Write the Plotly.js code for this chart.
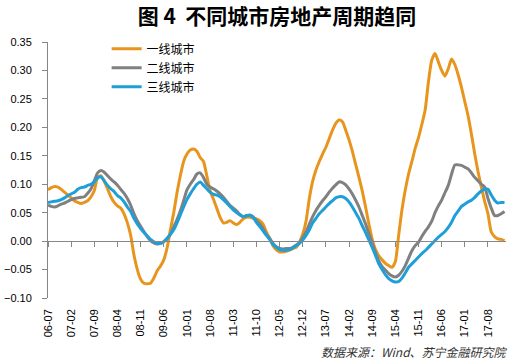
<!DOCTYPE html>
<html>
<head>
<meta charset="utf-8">
<script src="https://cdn.plot.ly/plotly-3.0.1.min.js"></script>
<style>html,body{margin:0;padding:0;background:#fff;}#chart{width:511px;height:360px;}</style>
</head>
<body>
<div id="chart"></div>
<script>
const months = [
 "06-07","06-08","06-09","06-10","06-11","06-12",
 "07-01","07-02","07-03","07-04","07-05","07-06","07-07","07-08","07-09","07-10","07-11","07-12",
 "08-01","08-02","08-03","08-04","08-05","08-06","08-07","08-08","08-09","08-10","08-11","08-12",
 "09-01","09-02","09-03","09-04","09-05","09-06","09-07","09-08","09-09","09-10","09-11","09-12",
 "10-01","10-02","10-03","10-04","10-05","10-06","10-07","10-08","10-09","10-10","10-11","10-12",
 "11-01","11-02","11-03","11-04","11-05","11-06","11-07","11-08","11-09","11-10","11-11","11-12",
 "12-01","12-02","12-03","12-04","12-05","12-06","12-07","12-08","12-09","12-10","12-11","12-12",
 "13-01","13-02","13-03","13-04","13-05","13-06","13-07","13-08","13-09","13-10","13-11","13-12",
 "14-01","14-02","14-03","14-04","14-05","14-06","14-07","14-08","14-09","14-10","14-11","14-12",
 "15-01","15-02","15-03","15-04","15-05","15-06","15-07","15-08","15-09","15-10","15-11","15-12",
 "16-01","16-02","16-03","16-04","16-05","16-06","16-07","16-08","16-09","16-10","16-11","16-12",
 "17-01","17-02","17-03","17-04","17-05","17-06","17-07","17-08","17-09","17-10","17-11","17-12",
 "18-01"
];

const tier1 = [
 0.090,0.094,0.096,0.095,0.091,0.086,
 0.081,0.076,0.071,0.068,0.066,0.068,0.071,0.078,0.089,0.112,0.115,0.105,
 0.092,0.078,0.068,0.062,0.058,0.048,0.032,0.010,-0.025,-0.050,-0.067,-0.074,
 -0.075,-0.074,-0.065,-0.052,-0.044,-0.033,-0.012,0.020,0.050,0.085,0.115,0.140,
 0.153,0.160,0.162,0.158,0.147,0.140,0.115,0.088,0.074,0.058,0.042,0.032,
 0.033,0.036,0.032,0.029,0.033,0.039,0.042,0.042,0.040,0.039,0.036,0.030,
 0.016,0.005,-0.008,-0.015,-0.019,-0.019,-0.018,-0.016,-0.013,-0.011,-0.002,0.012,
 0.035,0.075,0.105,0.125,0.140,0.153,0.165,0.180,0.195,0.207,0.213,0.210,
 0.195,0.178,0.158,0.135,0.112,0.088,0.060,0.030,0.003,-0.015,-0.026,-0.033,
 -0.039,-0.043,-0.046,-0.036,0.010,0.055,0.090,0.118,0.140,0.163,0.182,0.205,
 0.230,0.280,0.318,0.330,0.315,0.300,0.290,0.303,0.320,0.310,0.292,0.270,
 0.245,0.220,0.188,0.153,0.122,0.095,0.070,0.048,0.016,0.008,0.004,0.003,
 0.001
];

const tier2 = [
 0.063,0.061,0.060,0.062,0.065,0.067,
 0.070,0.073,0.075,0.076,0.077,0.078,0.084,0.092,0.106,0.120,0.124,0.121,
 0.115,0.109,0.104,0.098,0.091,0.084,0.075,0.063,0.048,0.036,0.026,0.017,
 0.008,0.001,-0.003,-0.005,-0.004,-0.001,0.004,0.012,0.025,0.038,0.053,0.071,
 0.090,0.100,0.108,0.118,0.120,0.112,0.100,0.095,0.092,0.088,0.083,0.077,
 0.070,0.063,0.058,0.053,0.047,0.043,0.044,0.045,0.043,0.036,0.030,0.022,
 0.012,0.005,-0.004,-0.010,-0.013,-0.014,-0.013,-0.013,-0.011,-0.007,-0.003,0.006,
 0.016,0.030,0.043,0.054,0.063,0.071,0.078,0.086,0.093,0.099,0.104,0.103,
 0.099,0.092,0.083,0.072,0.060,0.045,0.030,0.013,-0.003,-0.020,-0.035,-0.045,
 -0.051,-0.057,-0.061,-0.063,-0.060,-0.053,-0.043,-0.030,-0.017,-0.008,-0.002,0.008,
 0.017,0.025,0.035,0.050,0.062,0.072,0.085,0.098,0.118,0.134,0.134,0.133,
 0.130,0.127,0.120,0.112,0.106,0.100,0.095,0.075,0.058,0.045,0.045,0.048,
 0.052
];

const tier3 = [
 0.068,0.069,0.070,0.071,0.073,0.076,
 0.080,0.083,0.086,0.091,0.094,0.095,0.098,0.100,0.104,0.111,0.113,0.106,
 0.098,0.092,0.087,0.080,0.076,0.069,0.060,0.052,0.040,0.030,0.022,0.015,
 0.009,0.003,-0.001,-0.004,-0.004,-0.001,0.005,0.012,0.020,0.032,0.046,0.060,
 0.073,0.083,0.092,0.100,0.104,0.098,0.092,0.086,0.082,0.081,0.078,0.073,
 0.067,0.061,0.055,0.050,0.046,0.043,0.045,0.046,0.042,0.033,0.026,0.018,
 0.010,0.003,-0.006,-0.011,-0.015,-0.016,-0.016,-0.015,-0.012,-0.008,-0.004,0.002,
 0.010,0.020,0.032,0.040,0.048,0.054,0.060,0.066,0.071,0.076,0.078,0.078,
 0.075,0.069,0.060,0.050,0.040,0.027,0.015,0.002,-0.011,-0.025,-0.040,-0.050,
 -0.059,-0.066,-0.070,-0.072,-0.071,-0.065,-0.056,-0.046,-0.040,-0.034,-0.028,-0.022,
 -0.017,-0.011,-0.005,0.001,0.007,0.012,0.017,0.024,0.033,0.045,0.053,0.061,
 0.065,0.069,0.072,0.077,0.083,0.088,0.092,0.091,0.081,0.072,0.067,0.068,
 0.068
];

const seriesNames = ["一线城市","二线城市","三线城市"];
const seriesColors = ["#E8951E","#808080","#1F9FD8"];
const seriesData = [tier1, tier2, tier3];

const xRange = [0, 138.45];
const axisGray = "#868686";
const tickFont = {family: "Liberation Sans, Arial, sans-serif", size: 11, color: "#000"};

const traces = seriesData.map((vals, k) => ({
  type: "scatter", mode: "lines",
  x: months, y: vals, name: seriesNames[k],
  line: {color: seriesColors[k], width: 3, shape: "spline", smoothing: 0.6},
  hoverinfo: "skip"
}));
// helper trace to carry the zero-crossing tick axis
traces.push({
  type: "scatter", mode: "lines", x: months, y: months.map(() => null),
  xaxis: "x2", yaxis: "y", showlegend: false, hoverinfo: "skip"
});

const layout = {
  width: 511, height: 360,
  margin: {l: 48, r: 5, t: 42, b: 62},
  paper_bgcolor: "#fff", plot_bgcolor: "#fff",
  showlegend: true,
  title: {
    text: "图 4\u00a0\u00a0不同城市房地产周期趋同",
    x: 0.5, xanchor: "center", xref: "paper",
    y: 1 - 17/360, yref: "container", yanchor: "middle",
    font: {family: "Noto Sans CJK SC, sans-serif", size: 21, color: "#000", weight: 700}
  },
  xaxis: {
    type: "category", range: xRange,
    tickmode: "linear", tick0: 0, dtick: 7,
    tickangle: -90, showline: false, ticks: "", showgrid: false, zeroline: false,
    tickfont: tickFont, ticklabelstandoff: 8
  },
  xaxis2: {
    type: "category", overlaying: "x", anchor: "free", position: 0.1/0.45,
    range: xRange, tickmode: "linear", tick0: 0, dtick: 7,
    showticklabels: false, showline: true, linecolor: axisGray, linewidth: 1,
    ticks: "outside", ticklen: 5, tickcolor: axisGray, tickwidth: 1,
    showgrid: false, zeroline: false
  },
  yaxis: {
    range: [-0.10, 0.35], tickmode: "linear", tick0: -0.10, dtick: 0.05,
    tickformat: ".2f", showline: true, linecolor: axisGray, linewidth: 1,
    ticks: "outside", ticklen: 5, tickcolor: axisGray, tickwidth: 1,
    showgrid: false, zeroline: false, tickfont: tickFont, ticklabelstandoff: 8
  },
  legend: {
    x: 0.128, xanchor: "left", y: 1.03, yanchor: "top",
    bgcolor: "rgba(0,0,0,0)", borderwidth: 0,
    font: {family: "Noto Sans CJK SC, sans-serif", size: 12, color: "#000"},
    tracegroupgap: 0
  },
  annotations: [{
    text: "数据来源：Wind、苏宁金融研究院",
    xref: "paper", yref: "paper", x: 1.0087, y: -0.21,
    xanchor: "right", yanchor: "middle", showarrow: false,
    font: {family: "Noto Sans CJK SC, sans-serif", size: 12, color: "#333", style: "italic"}
  }]
};

Plotly.newPlot("chart", traces, layout, {displayModeBar: false, staticPlot: true});
</script>
</body>
</html>
